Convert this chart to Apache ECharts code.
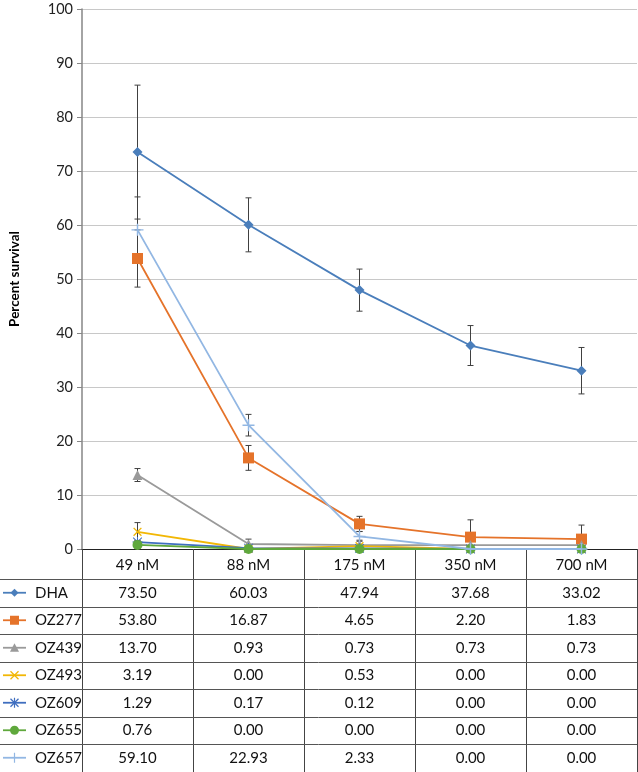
<!DOCTYPE html>
<html>
<head>
<meta charset="utf-8">
<script src="https://cdn.jsdelivr.net/npm/echarts@6/dist/echarts.min.js"></script>
<style>
  html, body { margin: 0; padding: 0; background: #fff; }
  #chart { width: 638px; height: 772px; }
</style>
</head>
<body>
<div id="chart"></div>
<script>
// 数据
const categories = ['49 nM', '88 nM', '175 nM', '350 nM', '700 nM'];
const seriesNames = ['DHA', 'OZ277', 'OZ439', 'OZ493', 'OZ609', 'OZ655', 'OZ657'];

const dha   = [73.50, 60.03, 47.94, 37.68, 33.02];
const oz277 = [53.80, 16.87, 4.65, 2.20, 1.83];
const oz439 = [13.70, 0.93, 0.73, 0.73, 0.73];
const oz493 = [3.19, 0.00, 0.53, 0.00, 0.00];
const oz609 = [1.29, 0.17, 0.12, 0.00, 0.00];
const oz655 = [0.76, 0.00, 0.00, 0.00, 0.00];
const oz657 = [59.10, 22.93, 2.33, 0.00, 0.00];

// 误差（估计值）
const dhaErr   = [12.4, 5.0, 3.9, 3.7, 4.3];
const oz277Err = [5.3, 2.3, 1.4, 3.2, 2.6];
const oz439Err = [1.2, 0.9, 0.9, 0, 0];
const oz493Err = [1.7, 0, 0.3, 0, 0];
const oz609Err = [0.3, 0.1, 0.1, 0, 0];
const oz655Err = [0.2, 0, 0, 0, 0];
const oz657Err = [6.1, 2.0, 0.9, 0, 0];

const yTicks = [0, 10, 20, 30, 40, 50, 60, 70, 80, 90, 100];

const values = [dha, oz277, oz439, oz493, oz609, oz655, oz657];
const errors = [dhaErr, oz277Err, oz439Err, oz493Err, oz609Err, oz655Err, oz657Err];
const colors = ['#4A7EBB', '#E5732A', '#9A9A9A', '#F2B705', '#3F6EBF', '#5FA83C', '#92B7E3'];

const plusPath = 'path://M4.4,0H5.6V4.4H10V5.6H5.6V10H4.4V5.6H0V4.4H4.4Z';
const starPath = 'path://M4.5,0H5.5V4.5H10V5.5H5.5V10H4.5V5.5H0V4.5H4.5Z' +
  'M1,0.3L9.7,9L9,9.7L0.3,1Z M9,0.3L9.7,1L1,9.7L0.3,9Z';
const symbols = ['diamond', 'rect', 'triangle', plusPath, starPath, 'circle', plusPath];
const symbolSizes = [10, 11, 10, 11, 10, 10, 12];
const symbolRotates = [0, 0, 0, 45, 0, 0, 0];

const FONT = 'Lato, "Open Sans", sans-serif';
const gridLeft = 81, gridTop = 9, gridRight = 637, gridBottom = 549;

const chart = echarts.init(document.getElementById('chart'));

const lineSeries = seriesNames.map((name, i) => ({
  name: name,
  type: 'line',
  data: values[i],
  symbol: symbols[i],
  symbolSize: symbolSizes[i],
  symbolRotate: symbolRotates[i],
  clip: false,
  z: 3 + i,
  lineStyle: { color: colors[i], width: 1.8 },
  itemStyle: { color: colors[i] }
}));

const errSeries = seriesNames.map((name, i) => ({
  name: name + ' err',
  type: 'custom',
  z: 2,
  data: values[i].map((v, j) => [j, Math.max(0, v - errors[i][j]), v + errors[i][j], errors[i][j]]),
  renderItem: function (params, api) {
    if (api.value(3) <= 0) return;
    const x = api.value(0);
    const lo = api.coord([x, api.value(1)]);
    const hi = api.coord([x, api.value(2)]);
    const st = { stroke: '#404040', lineWidth: 1 };
    const w = 3;
    return {
      type: 'group',
      children: [
        { type: 'line', shape: { x1: lo[0], y1: lo[1], x2: hi[0], y2: hi[1] }, style: st },
        { type: 'line', shape: { x1: hi[0] - w, y1: hi[1], x2: hi[0] + w, y2: hi[1] }, style: st },
        { type: 'line', shape: { x1: lo[0] - w, y1: lo[1], x2: lo[0] + w, y2: lo[1] }, style: st }
      ]
    };
  }
}));

chart.setOption({
  animation: false,
  backgroundColor: '#fff',
  grid: {
    left: gridLeft,
    top: gridTop,
    right: 638 - gridRight,
    bottom: 772 - gridBottom,
    containLabel: false
  },
  xAxis: {
    type: 'category',
    data: categories,
    boundaryGap: true,
    axisLine: { lineStyle: { color: '#222', width: 1 } },
    axisTick: { show: true, length: 223, interval: 0, lineStyle: { color: '#444', width: 1 } },
    axisLabel: { margin: 9, fontSize: 15, color: '#111', fontFamily: FONT, interval: 0 },
    z: 1
  },
  yAxis: {
    type: 'value',
    min: yTicks[0],
    max: yTicks[yTicks.length - 1],
    interval: 10,
    name: 'Percent survival',
    nameLocation: 'middle',
    nameGap: 60,
    nameTextStyle: { fontSize: 13.5, fontWeight: 'bold', color: '#000', fontFamily: FONT },
    axisLine: { show: true, lineStyle: { color: '#868686', width: 1.5 } },
    axisTick: { show: true, length: 5, lineStyle: { color: '#868686' } },
    axisLabel: { fontSize: 14.5, color: '#222', fontFamily: FONT, margin: 9 },
    splitLine: { lineStyle: { color: '#C8C8C8', width: 1.2 } }
  },
  series: errSeries.concat(lineSeries)
});

// 数据表
function drawTable() {
  const rowTop = 579, rowBottom = 771.5;
  const rowH = (rowBottom - rowTop) / seriesNames.length;
  const els = [];
  for (let r = 0; r <= seriesNames.length; r++) {
    const y = Math.round(rowTop + r * rowH) + 0.5;
    els.push({ type: 'line', shape: { x1: 0, y1: y, x2: gridRight, y2: y },
      style: { stroke: '#555', lineWidth: 1 }, z: 10 });
  }
  seriesNames.forEach((name, i) => {
    const cy = rowTop + (i + 0.5) * rowH;
    els.push({ type: 'line', shape: { x1: 3, y1: cy, x2: 26, y2: cy },
      style: { stroke: colors[i], lineWidth: 1.8 }, z: 10 });
    els.push(keyMarker(i, 14.5, cy));
    els.push({ type: 'text', x: 35, y: cy, z: 10,
      style: { text: name, fontSize: 15, fill: '#111', fontFamily: FONT, verticalAlign: 'middle' } });
    values[i].forEach((v, j) => {
      const cx = chart.convertToPixel({ xAxisIndex: 0 }, j);
      els.push({ type: 'text', x: cx, y: cy, z: 10,
        style: { text: v.toFixed(2), fontSize: 15, fill: '#111', fontFamily: FONT,
          align: 'center', verticalAlign: 'middle' } });
    });
  });
  chart.setOption({ graphic: els });
}

function keyMarker(i, x, y) {
  const c = colors[i];
  const s = { fill: c };
  const ln = { stroke: c, lineWidth: 1.2 };
  switch (i) {
    case 0: return { type: 'polygon', shape: { points: [[x, y - 4], [x + 4, y], [x, y + 4], [x - 4, y]] }, style: s, z: 11 };
    case 1: return { type: 'rect', shape: { x: x - 4.5, y: y - 4.5, width: 9, height: 9 }, style: s, z: 11 };
    case 2: return { type: 'polygon', shape: { points: [[x, y - 4.5], [x + 4.5, y + 4], [x - 4.5, y + 4]] }, style: s, z: 11 };
    case 3: return { type: 'group', z: 11, children: [
      { type: 'line', shape: { x1: x - 4, y1: y - 4, x2: x + 4, y2: y + 4 }, style: ln, z: 11 },
      { type: 'line', shape: { x1: x - 4, y1: y + 4, x2: x + 4, y2: y - 4 }, style: ln, z: 11 }] };
    case 4: return { type: 'group', z: 11, children: [
      { type: 'line', shape: { x1: x - 4, y1: y - 4, x2: x + 4, y2: y + 4 }, style: ln, z: 11 },
      { type: 'line', shape: { x1: x - 4, y1: y + 4, x2: x + 4, y2: y - 4 }, style: ln, z: 11 },
      { type: 'line', shape: { x1: x, y1: y - 5, x2: x, y2: y + 5 }, style: ln, z: 11 }] };
    case 5: return { type: 'circle', shape: { cx: x, cy: y, r: 4.5 }, style: s, z: 11 };
    default: return { type: 'line', shape: { x1: x, y1: y - 5, x2: x, y2: y + 5 }, style: ln, z: 11 };
  }
}

drawTable();
</script>
</body>
</html>
